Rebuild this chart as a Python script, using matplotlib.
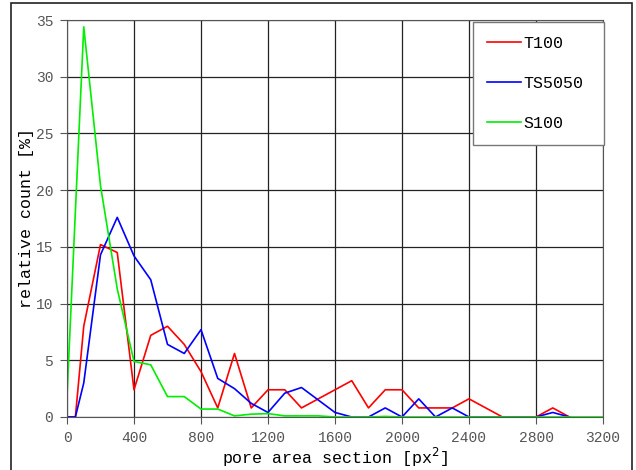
import matplotlib.pyplot as plt
from matplotlib.patches import Rectangle

# bins (pore area section, px^2)
x_rb = [0, 50, 100, 200, 300, 400, 500, 600, 700, 800, 900, 1000, 1100, 1200, 1300,
        1400, 1500, 1600, 1700, 1800, 1900, 2000, 2100, 2200, 2300, 2400, 2500, 2600,
        2700, 2800, 2900, 3000]
x_g = [0, 100, 200, 300, 400, 500, 600, 700, 800, 900, 1000, 1100, 1200, 1300, 1400,
       1500, 1600, 1700, 1800, 1900, 2000, 2100, 2200, 2300, 2400, 2500, 2600, 2700,
       2800, 2900, 3000, 3100, 3200]

t100 = [0, 0, 8.0, 15.2, 14.5, 2.4, 7.2, 8.0, 6.4, 4.0, 0.8, 5.6, 0.8, 2.4, 2.4,
        0.8, 1.6, 2.4, 3.2, 0.8, 2.4, 2.4, 0.8, 0.8, 0.8, 1.6, 0.8, 0,
        0, 0, 0.8, 0]
ts5050 = [0, 0, 3.0, 14.3, 17.6, 14.2, 12.1, 6.4, 5.6, 7.7, 3.4, 2.5, 1.2, 0.4, 2.1,
          2.6, 1.5, 0.4, 0, 0, 0.8, 0, 1.6, 0, 0.8, 0, 0, 0,
          0, 0, 0.4, 0]
s100 = [1.8, 34.4, 20.4, 11.3, 4.9, 4.6, 1.8, 1.8, 0.7, 0.7, 0.1, 0.25, 0.3, 0.1, 0.1,
        0.1, 0, 0, 0, 0.05, 0, 0, 0, 0, 0, 0, 0, 0,
        0, 0, 0, 0, 0]

mono = 'Liberation Mono'

fig = plt.figure(figsize=(6.36, 4.70), dpi=100)
ax = fig.add_axes([67/636, 1 - 417/470, (603-67)/636, (417-20)/470])

ax.plot(x_rb, t100, color='#ff0000', lw=1.2, label='T100')
ax.plot(x_rb, ts5050, color='#0000ff', lw=1.2, label='TS5050')
ax.plot(x_g, s100, color='#00ee00', lw=1.2, label='S100')

ax.set_xlim(0, 3200)
ax.set_ylim(0, 35)
ax.set_xticks(range(0, 3201, 400))
ax.set_yticks(range(0, 36, 5))
ax.grid(True, color='#222222', lw=0.9)
ax.set_axisbelow(True)
for s in ax.spines.values():
    s.set_color('#555555')
ax.tick_params(direction='out', length=5, color='#555555', labelcolor='#555555',
               labelsize=10.5)
ax.tick_params(axis='x', pad=5)
ax.tick_params(axis='y', pad=5)
for lab in ax.get_xticklabels() + ax.get_yticklabels():
    lab.set_family(mono)

ax.set_xlabel('pore area section [px$^2$]', family=mono, fontsize=12, labelpad=1)
ax.set_ylabel('relative count [%]', family=mono, fontsize=12, labelpad=1)

leg = ax.legend(loc='upper left', prop={'family': mono, 'size': 12},
                handlelength=2.0, handletextpad=0.15, labelspacing=1.5,
                borderpad=0.85, borderaxespad=0, fancybox=False, framealpha=1,
                mode='expand', bbox_to_anchor=(0.7575, 0.6877, 0.2444, 0.307))
leg.get_frame().set_edgecolor('#777777')
leg.get_frame().set_linewidth(1.0)

# outer frame of the picture
fig.patches.append(Rectangle((11/636, -0.01), (632-11)/636, 1 - 3/470 + 0.01,
                             transform=fig.transFigure, fill=False,
                             edgecolor='#222222', lw=1.2))

plt.savefig('out.png')
